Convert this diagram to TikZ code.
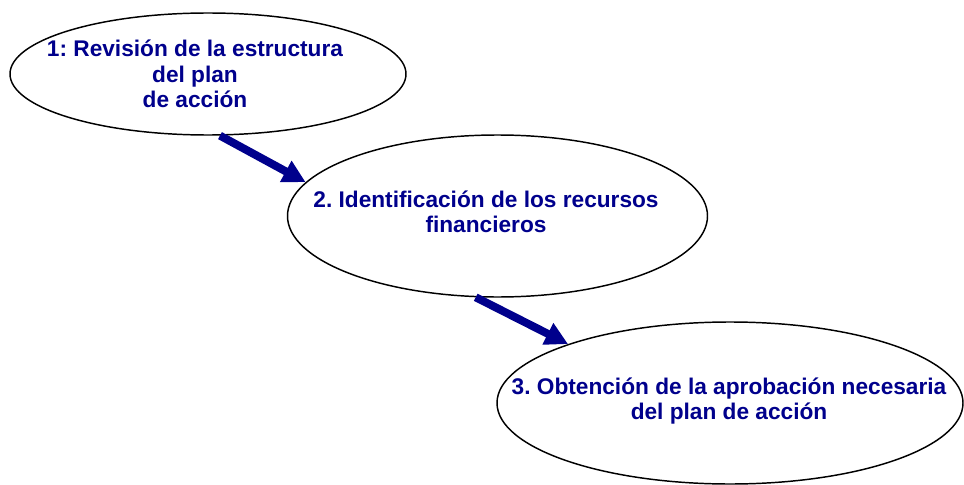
\documentclass[tikz,border=0pt]{standalone}
\usepackage{fontspec}
\setmainfont{Liberation Sans}
\usepackage{xcolor}
\usepackage{tikz}
\usetikzlibrary{shapes.geometric,arrows.meta}
\definecolor{granat}{RGB}{0,0,140}
\frenchspacing

\begin{document}
\begin{tikzpicture}[x=0.75pt,y=-0.75pt,
  etapa/.style={draw,ellipse,line width=1.1pt,inner sep=0pt},
  texto/.style={granat,font=\bfseries\fontsize{17}{19}\selectfont,align=center},
  flecha/.style={granat,line width=6pt,-{Triangle[length=17pt,width=17pt]}}]
  \useasboundingbox (0,0) rectangle (964,485);

  % Elipses
  \node[etapa,minimum width=297pt,minimum height=91.5pt] (e1) at (208,74) {};
  \node[etapa,minimum width=315pt,minimum height=121.5pt] (e2) at (497.5,216) {};
  \node[etapa,minimum width=349.5pt,minimum height=121.5pt] (e3) at (730,403) {};

  % Textos
  \node[texto] (t1) at (195,74) {1: Revisión de la estructura\\del plan\\de acción};
  \node[texto] (t2) at (486,212) {2. Identificación de los recursos\\financieros};
  \node[texto] (t3) at (729,401) {3. Obtención de la aprobación necesaria\\del plan de acción};

  % Flechas
  \draw[flecha] (e1.-79) -- (e2.170);
  \draw[flecha] (e2.-105) -- (e3.160);
\end{tikzpicture}
\end{document}
